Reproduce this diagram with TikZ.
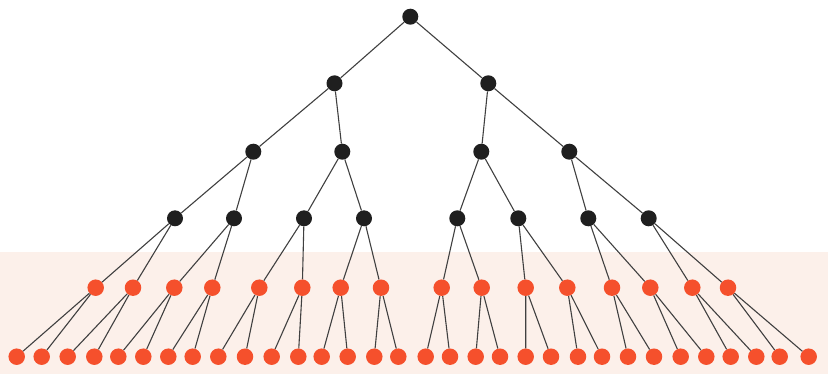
\documentclass[tikz,border=0pt]{standalone}
\begin{document}
\begin{tikzpicture}[x=1pt,y=-1pt,
  dk/.style={circle,fill=black!88,minimum size=16pt,inner sep=0pt},
  og/.style={circle,fill=orangedot,minimum size=16.5pt,inner sep=0pt},
  edge/.style={draw=black!75,line width=1.1pt}]
\definecolor{orangedot}{HTML}{F5502C}
\definecolor{band}{HTML}{FCF0EA}
\useasboundingbox (0,0) rectangle (828,377);
\fill[band] (0,252) rectangle (828,374);
% nodes
\node[dk] (r) at (410.3,16.7) {};
\node[dk] (a1) at (334.5,83.3) {};
\node[dk] (a2) at (488.3,83.3) {};
\foreach \x [count=\i] in {253.3,342.3,481.3,569.3}
  \node[dk] (b\i) at (\x,151.7) {};
\foreach \x [count=\i] in {175,234,304,364,457.3,518.3,588.3,648.7}
  \node[dk] (c\i) at (\x,218.3) {};
\foreach \x [count=\i] in {95.7,133,174.3,212.3,259.3,302.3,340.7,381,441.7,481.7,525.7,567.3,612,650.3,692.3,728}
  \node[og] (d\i) at (\x,287.7) {};
\foreach \x [count=\i] in {16.7,41.7,67.7,94.3,118.3,143.3,168.3,192.7,218.3,245,271.7,298.3,321.7,347.7,374.3,398.3,425.7,450,475.7,500,525.7,551,578,602,628,654,680.7,706.3,730.7,756.3,779.7,808.7}
  \node[og] (e\i) at (\x,356.7) {};
% edges
\path[edge] (r) -- (a1) (r) -- (a2);
\path[edge] (a1) -- (b1) (a1) -- (b2) (a2) -- (b3) (a2) -- (b4);
\foreach \p in {1,...,4}{
  \pgfmathtruncatemacro{\ca}{2*\p-1}\pgfmathtruncatemacro{\cb}{2*\p}
  \path[edge] (b\p) -- (c\ca) (b\p) -- (c\cb);}
\foreach \p in {1,...,8}{
  \pgfmathtruncatemacro{\ca}{2*\p-1}\pgfmathtruncatemacro{\cb}{2*\p}
  \path[edge] (c\p) -- (d\ca) (c\p) -- (d\cb);}
\foreach \p in {1,...,16}{
  \pgfmathtruncatemacro{\ca}{2*\p-1}\pgfmathtruncatemacro{\cb}{2*\p}
  \path[edge] (d\p) -- (e\ca) (d\p) -- (e\cb);}
\end{tikzpicture}
\end{document}
